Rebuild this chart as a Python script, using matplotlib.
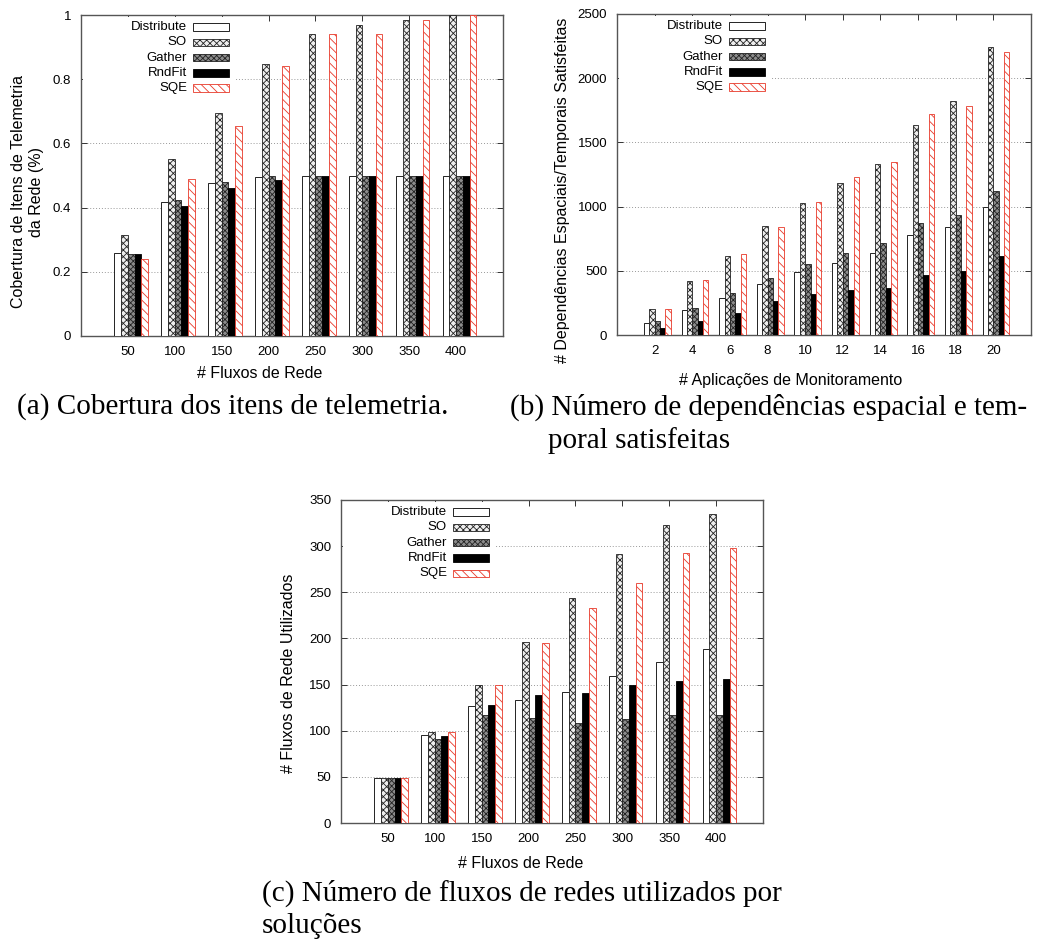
import matplotlib
matplotlib.use("Agg")
import matplotlib.pyplot as plt
from matplotlib.patches import Rectangle
import numpy as np

plt.rcParams['font.family'] = ['Liberation Sans', 'DejaVu Sans']
plt.rcParams['hatch.linewidth'] = 0.6

series = ["Distribute", "SO", "Gather", "RndFit", "SQE"]

# (a) cobertura dos itens de telemetria
fluxos = ["50", "100", "150", "200", "250", "300", "350", "400"]
cob_distribute = [0.258, 0.417, 0.478, 0.494, 0.500, 0.500, 0.500, 0.500]
cob_so = [0.314, 0.552, 0.695, 0.848, 0.941, 0.968, 0.983, 1.000]
cob_gather = [0.254, 0.423, 0.480, 0.497, 0.500, 0.500, 0.500, 0.500]
cob_rndfit = [0.254, 0.405, 0.460, 0.487, 0.497, 0.497, 0.497, 0.500]
cob_sqe = [0.240, 0.489, 0.653, 0.840, 0.941, 0.941, 0.983, 1.000]

# (b) dependencias espaciais/temporais satisfeitas
aplicacoes = ["2", "4", "6", "8", "10", "12", "14", "16", "18", "20"]
dep_distribute = [93, 195, 288, 395, 488, 561, 641, 781, 844, 1000]
dep_so = [205, 418, 613, 849, 1025, 1184, 1332, 1638, 1820, 2243]
dep_gather = [106, 210, 325, 444, 550, 639, 719, 875, 937, 1124]
dep_rndfit = [55, 112, 169, 267, 319, 350, 369, 470, 501, 613]
dep_sqe = [200, 431, 631, 844, 1033, 1231, 1350, 1721, 1783, 2204]

# (c) fluxos de rede utilizados
usa_distribute = [49, 95, 127, 133, 142, 159, 174, 189]
usa_so = [49, 99, 149, 196, 244, 291, 323, 335]
usa_gather = [49, 91, 117, 114, 108, 113, 117, 117]
usa_rndfit = [49, 94, 128, 139, 141, 149, 154, 156]
usa_sqe = [49, 99, 149, 195, 233, 260, 293, 298]

estilos = [
    dict(facecolor="white", edgecolor="black", hatch=None),
    dict(facecolor="#eeeeee", edgecolor="#222222", hatch="xxxxx"),
    dict(facecolor="#8c8c8c", edgecolor="#222222", hatch="xxxxxx"),
    dict(facecolor="black", edgecolor="black", hatch=None),
    dict(facecolor="white", edgecolor="#e8392a", hatch="\\\\\\\\"),
]

W, H = 1052, 949
fig = plt.figure(figsize=(W / 100, H / 100), dpi=100)


def painel(px_box, cats, dados, ylim, yticks, ylabels, xlabel, ylabel, xl_pos, yl_pos):
    x0, y0, x1, y1 = px_box
    ax = fig.add_axes([x0 / W, 1 - y1 / H, (x1 - x0) / W, (y1 - y0) / H])
    x = np.arange(len(cats))
    for j, vals in enumerate(dados):
        ax.bar(x + (j - 1.5) / 7, vals, width=1 / 7, linewidth=0.6, zorder=3, **estilos[j])
    ax.set_xlim(-1, len(cats))
    ax.set_ylim(*ylim)
    ax.set_xticks(x)
    ax.set_xticklabels(cats)
    ax.set_yticks(yticks)
    ax.set_yticklabels(ylabels)
    ax.tick_params(direction="in", length=4, width=0.7, top=True, right=True,
                   labelsize=9.5, colors="#333333", labelcolor="black", pad=7)
    for s in ax.spines.values():
        s.set_color("#555555")
        s.set_linewidth(1.0)
    ax.set_axisbelow(True)
    ax.yaxis.grid(True, color="#999999", linestyle=(0, (1, 2)), linewidth=0.7)
    ax.text(xl_pos[0], xl_pos[1], xlabel, transform=ax.transAxes, ha="center",
            va="center", fontsize=11.5)
    ax.text(yl_pos[0], yl_pos[1], ylabel, transform=ax.transAxes, ha="center",
            va="center", rotation=90, fontsize=11.5, multialignment="center")

    # legenda no estilo gnuplot (texto alinhado a direita, amostra a direita)
    wpx, hpx = x1 - x0, y1 - y0
    ax.add_patch(Rectangle((0.004, 1 - 84 / hpx), 152 / wpx, 82 / hpx, transform=ax.transAxes,
                           facecolor="white", edgecolor="none", zorder=2))
    for j, nome in enumerate(series):
        yc = 1 - (12 + 15.3 * j) / hpx
        ax.text(106 / wpx, yc, nome, transform=ax.transAxes, ha="right", va="center",
                fontsize=9.5, zorder=4)
        ax.add_patch(Rectangle((112 / wpx, yc - 3.7 / hpx), 36 / wpx, 7.4 / hpx,
                               transform=ax.transAxes, linewidth=0.6, zorder=4, **estilos[j]))
    return ax


painel((81, 15, 503, 336), fluxos,
       [cob_distribute, cob_so, cob_gather, cob_rndfit, cob_sqe],
       (0, 1), [0, 0.2, 0.4, 0.6, 0.8, 1], ["0", "0.2", "0.4", "0.6", "0.8", "1"],
       "# Fluxos de Rede", "Cobertura de Itens de Telemetria\nda Rede (%)",
       (0.4245, -0.118), (-0.127, 0.449))

painel((617, 14, 1031, 335), aplicacoes,
       [dep_distribute, dep_so, dep_gather, dep_rndfit, dep_sqe],
       (0, 2500), [0, 500, 1000, 1500, 2000, 2500],
       ["0", "500", "1000", "1500", "2000", "2500"],
       "# Aplicações de Monitoramento", "# Dependências Espaciais/Temporais Satisfeitas",
       (0.420, -0.142), (-0.132, 0.451))

painel((341, 500, 763, 823), fluxos,
       [usa_distribute, usa_so, usa_gather, usa_rndfit, usa_sqe],
       (0, 350), [0, 50, 100, 150, 200, 250, 300, 350],
       ["0", "50", "100", "150", "200", "250", "300", "350"],
       "# Fluxos de Rede", "# Fluxos de Rede Utilizados",
       (0.425, -0.125), (-0.125, 0.464))

cap = dict(family=["Liberation Serif", "DejaVu Serif"], fontsize=21, va="center", ha="left")
fig.text(17 / W, 1 - 407 / H, "(a) Cobertura dos itens de telemetria.", **cap)
fig.text(510 / W, 1 - 407 / H, "(b) Número de dependências espacial e tem-", **cap)
fig.text(548 / W, 1 - 441 / H, "poral satisfeitas", **cap)
fig.text(262 / W, 1 - 893 / H, "(c) Número de fluxos de redes utilizados por", **cap)
fig.text(262 / W, 1 - 926 / H, "soluções", **cap)

fig.savefig("out.png", dpi=100, facecolor="white")
